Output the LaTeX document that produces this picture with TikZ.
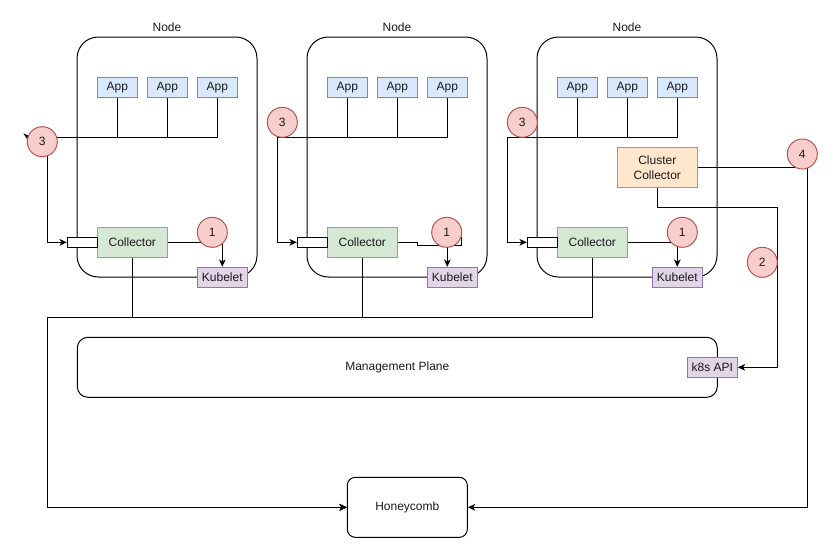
\documentclass[tikz,border=0pt]{standalone}
\usepackage{fontspec}
\setmainfont{Liberation Sans}
\usetikzlibrary{arrows.meta,calc}
\definecolor{appF}{HTML}{DAE8FC}\definecolor{appD}{HTML}{6C8EBF}
\definecolor{colF}{HTML}{D5E8D4}\definecolor{colD}{HTML}{82B366}
\definecolor{kubF}{HTML}{E1D5E7}\definecolor{kubD}{HTML}{9673A6}
\definecolor{numF}{HTML}{F8CECC}\definecolor{numD}{HTML}{B85450}
\definecolor{ccF}{HTML}{FFE6CC}\definecolor{ccD}{HTML}{D79B00}
\definecolor{txt}{HTML}{1A1A1A}
\begin{document}
\begin{tikzpicture}[x=0.75pt,y=-0.75pt,line width=0.75pt,
  font=\fontsize{9}{11.25}\selectfont, text=txt,
  box/.style={draw, inner sep=0pt, align=center},
  app/.style={box, fill=appF, draw=appD, minimum width=30pt, minimum height=15pt},
  coll/.style={box, fill=colF, draw=colD, minimum width=52.5pt, minimum height=22.5pt},
  port/.style={box, fill=white, draw=black, minimum width=22.5pt, minimum height=7.5pt},
  kube/.style={box, fill=kubF, draw=kubD, minimum width=37.5pt, minimum height=15pt},
  ccbox/.style={box, fill=ccF, draw=ccD, minimum width=60pt, minimum height=30pt},
  num/.style={circle, draw=numD, fill=numF, minimum size=22.5pt, inner sep=0pt},
  container/.style={draw, rounded corners=16pt, minimum width=135pt, minimum height=180pt, inner sep=0pt},
  arr/.style={-{Stealth[length=5.5pt,width=5pt,inset=1.5pt]}}]
\useasboundingbox (0,0) rectangle (839,558);
% containers
\foreach \i/\ox in {1/0,2/230,3/460}{
  \node[container] (node\i) at (167+\ox,157) {};
  \node (nodelab\i) at (167+\ox,27) {Node};
}
\node[draw, rounded corners=8pt, minimum width=480pt, minimum height=45pt, inner sep=0pt] (mgmt) at (397.3,367.3) {Management Plane};
\node[draw, rounded corners=6pt, minimum width=90pt, minimum height=45pt, inner sep=0pt] (honey) at (407.3,507.3) {Honeycomb};
% boxes (defined before connectors)
\foreach \i/\ox in {1/0,2/230,3/460}{
  \node[app] (app\i-1) at (117.3+\ox,87.3) {App};
  \node[app] (app\i-2) at (167.3+\ox,87.3) {App};
  \node[app] (app\i-3) at (217.3+\ox,87.3) {App};
}
\node[kube] (kube1) at (222.3,277.3) {Kubelet};
\node[kube] (kube2) at (452.3,277.3) {Kubelet};
\node[kube] (kube3) at (677.3,277.3) {Kubelet};
\node[ccbox] (cc) at (657.3,167.3) {Cluster\\Collector};
\node[kube] (k8s) at (712.3,367.3) {k8s API};
% coordinates
\coordinate (b1) at (47.3,137.3);
\coordinate (b2) at (277.3,137.3);
\coordinate (b3) at (507.3,137.3);
\coordinate (bus) at (47.3,317.3);
\coordinate (r4) at (807.3,167.3);
\coordinate (r2) at (777.3,207.3);
\coordinate (j2a) at (417,242.3);
\coordinate (j2b) at (417,245.5);
\coordinate (j2c) at (461.7,245.5);
\coordinate (j2d) at (461.7,236.5);
\coordinate (j2) at (447.3,245.5);
% collectors and ports drawn over the container edge
\foreach \i/\ox in {1/0,2/230,3/460}{
  \draw (app\i-1.south) -- (app\i-1.south |- b\i);
  \draw (app\i-2.south) -- (app\i-2.south |- b\i);
}
\foreach \i/\ox in {1/0,2/230,3/460}{
  \node[coll] (coll\i) at (132.3+\ox,242.3) {Collector};
  \node[port] (port\i) at (82.3+\ox,242.3) {};
  \draw[arr] (app\i-3.south) |- (b\i) |- (port\i.west);
  \draw[arr] (coll\i.south) |- (bus) |- (honey.west);
}
\draw[arr] (coll1.east) -| (kube1.north);
\draw[arr] (coll3.east) -| (kube3.north);
\draw (coll2.east) -- (j2a) -- (j2b) -- (j2c) -- (j2d);
\draw[arr] (j2) -- (j2 |- kube2.north);
\draw[arr] (cc.east) -- (r4) |- (honey.east);
\draw[arr] (cc.south) |- (r2) |- (k8s.east);
% redraw boxes on top of lines
\foreach \i in {1,2,3}{
  \node[kube] at (kube\i) {Kubelet};
}
\node[kube] at (k8s) {k8s API};
% stray arrow tip
\fill[black] (23.3,133.3) -- (28.8,135.8) -- (27.6,140) -- cycle;
% numbered markers
\node[num] (n3a) at (42.3,141.7) {3};
\node[num] (n3b) at (282.3,122.3) {3};
\node[num] (n3c) at (522.3,122.3) {3};
\node[num] (n1a) at (212.3,232.3) {1};
\node[num] (n1b) at (446.7,232.3) {1};
\node[num] (n1c) at (682.3,232.3) {1};
\node[num] (n2) at (762.3,262.3) {2};
\node[num] (n4) at (802.3,154) {4};
\end{tikzpicture}
\end{document}
